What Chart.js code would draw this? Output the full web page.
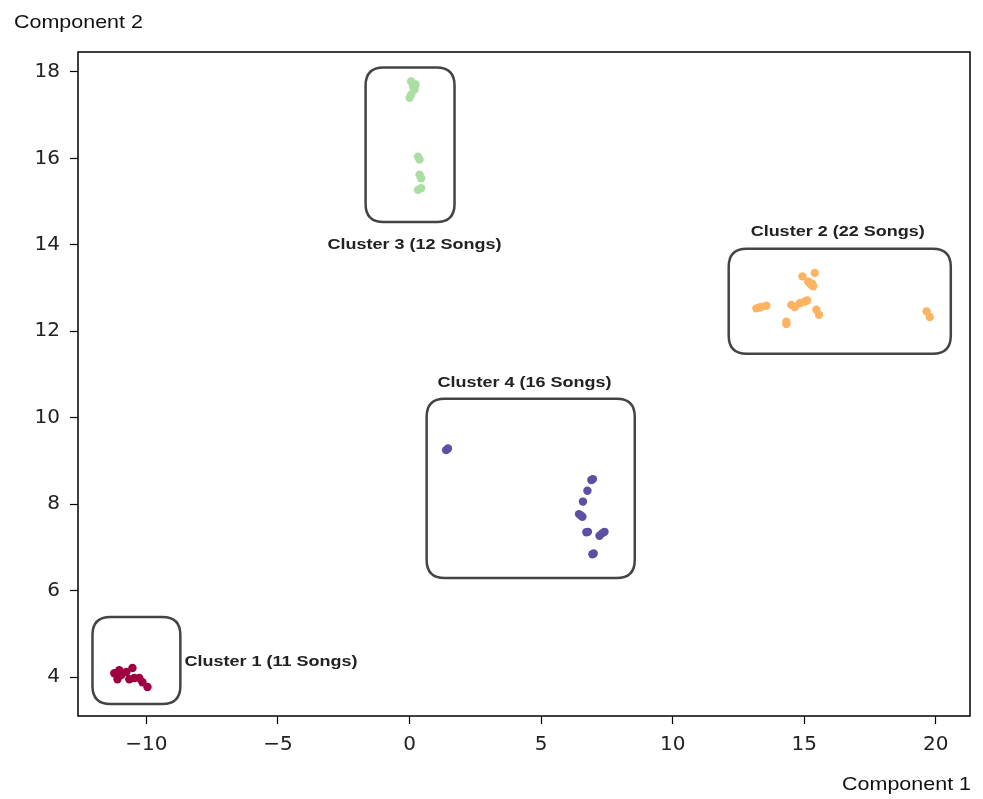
<!DOCTYPE html>
<html>
<head>
<meta charset="utf-8">
<script src="https://cdn.jsdelivr.net/npm/chart.js@4/dist/chart.umd.min.js"></script>
<style>
  html, body { margin: 0; padding: 0; background: #fff; }
  #wrap { width: 983px; height: 799px; position: relative; }
</style>
</head>
<body>
<div id="wrap"><canvas id="chart" width="983" height="799"></canvas></div>
<script>
// t-SNE style song clusters (Component 1 vs Component 2)
const cluster1X = [-11.22, -11.10, -10.95, -10.76, -10.53, -10.46, -10.27, -10.15, -9.96, -11.03, -10.65];
const cluster1Y = [4.09, 3.95, 4.05, 4.12, 4.21, 3.98, 3.98, 3.88, 3.77, 4.16, 3.95];

const cluster2X = [13.18, 13.37, 13.56, 14.32, 14.32, 14.51, 14.64, 14.83, 15.02, 15.11, 14.93, 15.40, 15.15, 15.27, 15.21, 15.34, 15.46, 15.56, 19.65, 19.77, 13.30, 15.30];
const cluster2Y = [12.53, 12.56, 12.59, 12.22, 12.17, 12.61, 12.56, 12.65, 12.69, 12.71, 13.27, 13.35, 13.15, 13.07, 13.11, 13.04, 12.50, 12.38, 12.46, 12.33, 12.55, 13.10];

const cluster3X = [0.06, 0.13, 0.19, 0.06, 0.00, 0.23, 0.32, 0.38, 0.38, 0.44, 0.32, 0.44];
const cluster3Y = [17.78, 17.66, 17.59, 17.47, 17.40, 17.71, 16.04, 15.97, 15.62, 15.54, 15.27, 15.31];

const cluster4X = [1.39, 1.46, 6.91, 6.97, 6.76, 6.59, 6.44, 6.57, 6.51, 6.72, 6.78, 7.22, 7.33, 7.41, 6.95, 7.00];
const cluster4Y = [9.25, 9.29, 8.56, 8.58, 8.31, 8.06, 7.77, 7.71, 7.74, 7.35, 7.36, 7.27, 7.33, 7.36, 6.84, 6.86];

const clusterColors = ['#9e0142', '#fdb462', '#abdda4', '#5e4fa2'];

// boxes: [xmin, xmax, ymin, ymax] and labels
const boxRanges = [
  [-12.05, -8.71, 3.375, 5.39],
  [12.13, 20.57, 11.48, 13.91],
  [-1.67, 1.71, 14.53, 18.10],
  [0.65, 8.56, 6.29, 10.44]
];
const boxLabels = ['Cluster 1 (11 Songs)', 'Cluster 2 (22 Songs)', 'Cluster 3 (12 Songs)', 'Cluster 4 (16 Songs)'];
const labelPos = [[-8.55, 4.35, 'left'], [16.27, 14.3, 'center'], [0.19, 14.0, 'center'], [4.37, 10.8, 'center']];

const xTicks = [-10, -5, 0, 5, 10, 15, 20];
const yTicks = [4, 6, 8, 10, 12, 14, 16, 18];

function toPoints(xs, ys) {
  return xs.map((x, i) => ({ x: x, y: ys[i] }));
}

const datasets = [
  toPoints(cluster1X, cluster1Y),
  toPoints(cluster2X, cluster2Y),
  toPoints(cluster3X, cluster3Y),
  toPoints(cluster4X, cluster4Y)
].map((pts, i) => ({
  data: pts,
  backgroundColor: clusterColors[i],
  borderColor: clusterColors[i],
  borderWidth: 0,
  pointRadius: 4.2
}));

function roundRect(ctx, x, y, w, h, r) {
  ctx.beginPath();
  ctx.moveTo(x + r, y);
  ctx.lineTo(x + w - r, y);
  ctx.quadraticCurveTo(x + w, y, x + w, y + r);
  ctx.lineTo(x + w, y + h - r);
  ctx.quadraticCurveTo(x + w, y + h, x + w - r, y + h);
  ctx.lineTo(x + r, y + h);
  ctx.quadraticCurveTo(x, y + h, x, y + h - r);
  ctx.lineTo(x, y + r);
  ctx.quadraticCurveTo(x, y, x + r, y);
  ctx.closePath();
}

// text drawn a little wider than the font, like the stretched original
function wideText(ctx, text, x, y, align, sx) {
  const w = ctx.measureText(text).width * sx;
  let left = x;
  if (align === 'center') left = x - w / 2;
  if (align === 'right') left = x - w;
  ctx.save();
  ctx.translate(left, y);
  ctx.scale(sx, 1);
  ctx.textAlign = 'left';
  ctx.fillText(text, 0, 0);
  ctx.restore();
}

const decorPlugin = {
  id: 'decor',
  afterDatasetsDraw(chart) {
    const ctx = chart.ctx;
    const xs = chart.scales.x, ys = chart.scales.y;
    ctx.save();
    // cluster boxes
    ctx.strokeStyle = '#444';
    ctx.lineWidth = 2.5;
    boxRanges.forEach(b => {
      const x1 = xs.getPixelForValue(b[0]), x2 = xs.getPixelForValue(b[1]);
      const y1 = ys.getPixelForValue(b[3]), y2 = ys.getPixelForValue(b[2]);
      roundRect(ctx, x1, y1, x2 - x1, y2 - y1, 18);
      ctx.stroke();
    });
    // labels
    ctx.fillStyle = '#222';
    ctx.font = 'bold 15px "Liberation Sans", Arial, sans-serif';
    ctx.textBaseline = 'middle';
    labelPos.forEach((p, i) => {
      wideText(ctx, boxLabels[i], xs.getPixelForValue(p[0]), ys.getPixelForValue(p[1]), p[2], 1.2);
    });
    // frame
    const a = chart.chartArea;
    ctx.strokeStyle = '#000';
    ctx.lineWidth = 1.5;
    ctx.strokeRect(a.left, a.top, a.right - a.left, a.bottom - a.top);
    // axis titles
    ctx.fillStyle = '#111';
    ctx.font = '19px "Liberation Sans", Arial, sans-serif';
    ctx.textBaseline = 'alphabetic';
    wideText(ctx, 'Component 2', 14, 28, 'left', 1.13);
    wideText(ctx, 'Component 1', 971, 790, 'right', 1.13);
    ctx.restore();
  }
};

new Chart(document.getElementById('chart'), {
  type: 'scatter',
  data: { datasets: datasets },
  plugins: [decorPlugin],
  options: {
    responsive: false,
    animation: false,
    layout: { padding: { left: 0, top: 52, right: 13, bottom: 0 } },
    plugins: { legend: { display: false }, tooltip: { enabled: false } },
    scales: {
      x: {
        type: 'linear',
        min: -12.6,
        max: 21.3,
        afterBuildTicks: (axis) => { axis.ticks = xTicks.map(v => ({ value: v })); },
        afterFit: (axis) => { axis.height = 83; },
        grid: { drawOnChartArea: false, drawTicks: true, tickLength: 8, tickColor: '#000', tickWidth: 1.2 },
        border: { display: false },
        ticks: {
          color: '#222',
          padding: 9,
          font: { family: '"DejaVu Sans", sans-serif', size: 20 },
          callback: (v) => (v < 0 ? '\u2212' + Math.abs(v) : String(v))
        }
      },
      y: {
        type: 'linear',
        min: 3.1,
        max: 18.46,
        afterBuildTicks: (axis) => { axis.ticks = yTicks.map(v => ({ value: v })); },
        afterFit: (axis) => { axis.width = 78; },
        grid: { drawOnChartArea: false, drawTicks: true, tickLength: 8, tickColor: '#000', tickWidth: 1.2 },
        border: { display: false },
        ticks: {
          color: '#222',
          padding: 10,
          font: { family: '"DejaVu Sans", sans-serif', size: 20 }
        }
      }
    }
  }
});
</script>
</body>
</html>
